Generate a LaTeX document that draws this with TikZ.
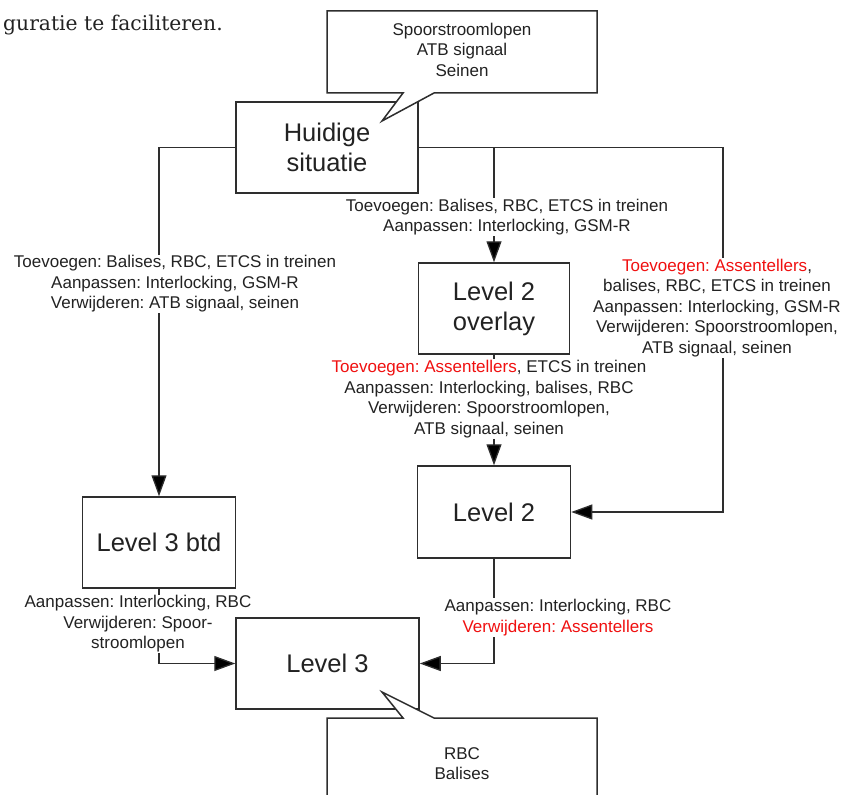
\documentclass[tikz,border=0pt]{standalone}
\usepackage{fontspec}
\usetikzlibrary{arrows.meta}
\newfontfamily\arialfont{Liberation Sans}
\newfontfamily\bodyfont{DejaVu Serif}
\definecolor{ink}{HTML}{222222}
\definecolor{wire}{HTML}{2E2E2E}
\definecolor{hot}{HTML}{F01010}
\pgfdeclarelayer{edges}
\pgfdeclarelayer{labels}
\pgfdeclarelayer{front}
\pgfsetlayers{edges,labels,main,front}
\frenchspacing
\begin{document}
\begin{tikzpicture}[x=1pt,y=-1pt,
  stage/.style={draw=wire, line width=1.5pt, fill=white, inner sep=0pt,
    text=ink, align=center, font=\arialfont\fontsize{25.5}{30}\selectfont},
  link/.style={draw=wire, line width=1.3pt,
    -{Triangle[length=21pt,width=15pt,fill=black]}},
  tag/.style={fill=white, text=ink, align=center, inner sep=1pt,
    font=\arialfont\fontsize{17}{20.5}\selectfont},
  bubble/.style={draw=wire, line width=1.5pt, fill=white, line join=miter},
  bubbletext/.style={text=ink, align=center, inner sep=0pt,
    font=\arialfont\fontsize{17}{20.5}\selectfont}]
\useasboundingbox (0,0) rectangle (850,794);
\clip (0,0) rectangle (850,794);

% running text above the figure
\node[anchor=base west, inner sep=0pt, text=ink,
  font=\bodyfont\fontsize{20.3}{24}\selectfont] (caption) at (3,31) {guratie te faciliteren.};

% stages
\node[stage, minimum width=182pt, minimum height=91pt] (hs)  at (327,147.5) {Huidige\\situatie};
\node[stage, minimum width=151pt, minimum height=91pt] (l2o) at (494,308.5) {Level 2\\overlay};
\node[stage, minimum width=153pt, minimum height=92pt] (l2)  at (494,512) {Level 2};
\node[stage, minimum width=153pt, minimum height=91pt] (l3b) at (159,542.5) {Level 3 btd};
\node[stage, minimum width=183pt, minimum height=91pt] (l3)  at (327.5,663.5) {Level 3};

\coordinate (rc) at (723,0);

% transitions
\begin{pgfonlayer}{edges}
\draw[link] (hs.west) -| (l3b.north);
\draw[link] (l2o.north |- hs.east) -- (l2o.north);
\draw[link] (hs.east) -| (rc |- l2.east) -- (l2.east);
\draw[link] (l2o.south) -- (l2.north);
\draw[link] (l3b.south) |- (l3.west);
\draw[link] (l2.south) |- (l3.east);
\end{pgfonlayer}

% transition labels
\begin{pgfonlayer}{labels}
\node[tag] (tl) at (175,284) {Toevoegen: Balises, RBC, ETCS in treinen\\
  Aanpassen: Interlocking, GSM-R\\Verwijderen: ATB signaal, seinen};
\node[tag] (tm) at (507,217) {Toevoegen: Balises, RBC, ETCS in treinen\\
  Aanpassen: Interlocking, GSM-R};
\node[tag] (tr) at (717,308) {\textcolor{hot}{Toevoegen: Assentellers},\\
  balises, RBC, ETCS in treinen\\Aanpassen: Interlocking, GSM-R\\
  Verwijderen: Spoorstroomlopen,\\ATB signaal, seinen};
\node[tag] (to) at (489,399) {\textcolor{hot}{Toevoegen: Assentellers}, ETCS in treinen\\
  Aanpassen: Interlocking, balises, RBC\\Verwijderen: Spoorstroomlopen,\\
  ATB signaal, seinen};
\node[tag] (tb) at (138,624) {Aanpassen: Interlocking, RBC\\Verwijderen: Spoor-\\stroomlopen};
\node[tag] (t2) at (558,617.5) {Aanpassen: Interlocking, RBC\\
  \textcolor{hot}{Verwijderen: Assentellers}};
\end{pgfonlayer}

% callouts
\begin{pgfonlayer}{front}
\draw[bubble] (327,11) -- (597,11) -- (597,93) -- (434,93) -- (382,121)
  -- (403,93) -- (327,93) -- cycle;
\node[bubbletext] (ctop) at (462,49.5) {Spoorstroomlopen\\ATB signaal\\Seinen};

\draw[bubble] (327,830) -- (327,718) -- (403,718) -- (382,692) -- (434,718)
  -- (597,718) -- (597,830);
\node[bubbletext, anchor=north] (cbot) at (462,747) {RBC\\Balises};
\end{pgfonlayer}
\end{tikzpicture}
\end{document}
